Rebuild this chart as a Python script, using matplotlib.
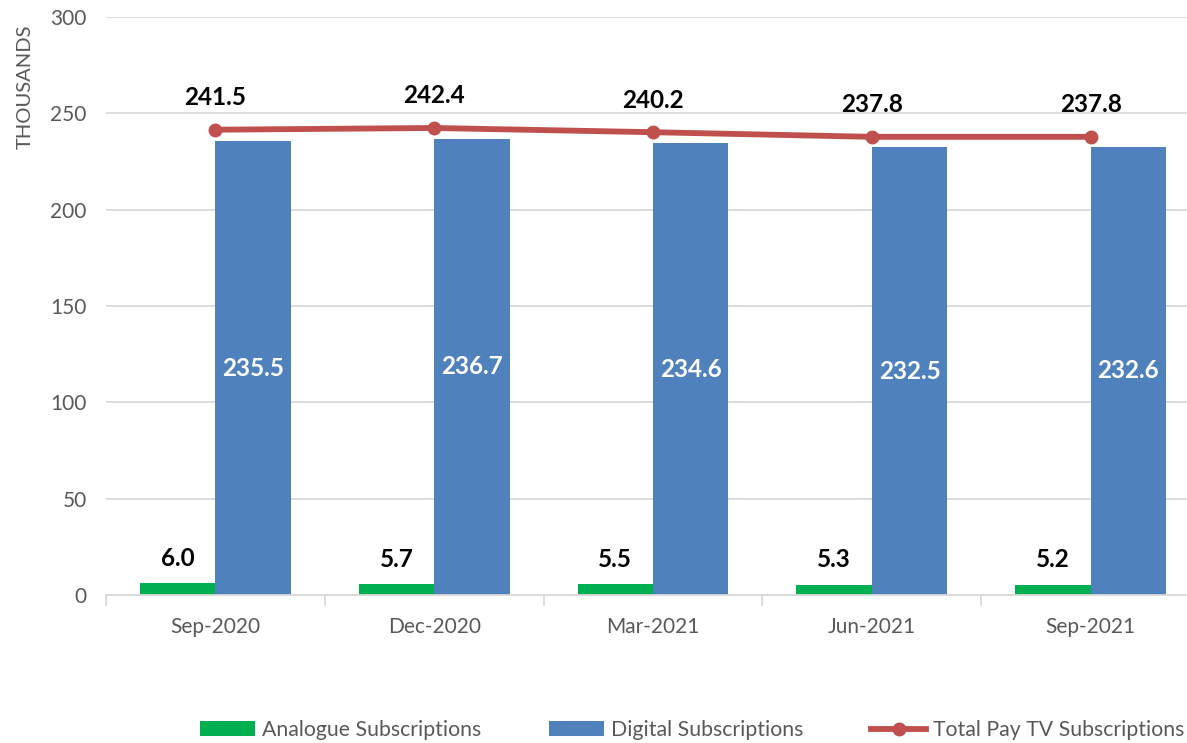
import matplotlib
matplotlib.use("Agg")
import matplotlib.pyplot as plt
from matplotlib.lines import Line2D
from matplotlib.patches import Patch
import numpy as np

plt.rcParams['font.family'] = ['Lato', 'DejaVu Sans']

quarters = ["Sep-2020", "Dec-2020", "Mar-2021", "Jun-2021", "Sep-2021"]
analogue = [6.0, 5.7, 5.5, 5.3, 5.2]
digital = [235.5, 236.7, 234.6, 232.5, 232.6]
total = [241.5, 242.4, 240.2, 237.8, 237.8]
yticks = [0, 50, 100, 150, 200, 250, 300]

GREEN = "#00B050"
BLUE = "#4F81BD"
RED = "#C0504D"
GREY_TXT = "#595959"
GRID = "#D9D9D9"

fig = plt.figure(figsize=(11.87, 7.43), dpi=100)
ax = fig.add_axes([106 / 1187, 148 / 743, 1094 / 1187, 578 / 743])

x = np.arange(len(quarters))
w = 0.345

ax.bar(x - w / 2, analogue, width=w, color=GREEN, zorder=2)
ax.bar(x + w / 2, digital, width=w, color=BLUE, zorder=2)
ax.plot(x, total, color=RED, lw=4.2, marker="o", ms=9, zorder=3,
        solid_capstyle="round")

LBL = dict(fontsize=17.5, fontweight="bold")
for xi, v in zip(x, analogue):
    ax.annotate(f"{v:.1f}", (xi - w / 2, v), xytext=(0, 25), textcoords="offset pixels",
                ha="center", va="center", color="black", **LBL)
for xi, v in zip(x, digital):
    ax.text(xi + w / 2, v / 2, f"{v:.1f}", ha="center", va="center",
            color="white", zorder=4, **LBL)
for xi, v in zip(x, total):
    ax.annotate(f"{v:.1f}", (xi, v), xytext=(0, 32), textcoords="offset pixels",
                ha="center", va="center", color="black", **LBL)

ax.set_xlim(-0.5, len(quarters) - 0.5)
ax.set_ylim(0, 300)
ax.set_yticks(yticks)
ax.set_yticklabels([str(t) for t in yticks])
ax.yaxis.grid(True, color=GRID, lw=1.3, zorder=0)
ax.set_axisbelow(True)

ax.set_xticks(x)
ax.set_xticklabels(quarters)
ax.set_xticks(np.arange(-0.5, len(quarters)), minor=True)
ax.tick_params(axis="x", which="major", length=0, pad=16, labelsize=15, labelcolor=GREY_TXT)
ax.tick_params(axis="x", which="minor", length=8, width=1.3, color=GRID, direction="out")
ax.tick_params(axis="y", length=0, pad=14, labelsize=15, labelcolor=GREY_TXT)

for s in ["top", "right", "left"]:
    ax.spines[s].set_visible(False)
ax.spines["bottom"].set_color(GRID)
ax.spines["bottom"].set_linewidth(1.3)

fig.text(25 / 1187, 1 - 87 / 743, "THOUSANDS", rotation=90, ha="center", va="center",
         fontsize=14.5, color=GREY_TXT)

handles = [
    Patch(facecolor=GREEN, edgecolor="none"),
    Patch(facecolor=BLUE, edgecolor="none"),
    Line2D([0], [0], color=RED, lw=4.2, marker="o", ms=9),
]
labels = ["Analogue Subscriptions", "Digital Subscriptions", "Total Pay TV Subscriptions"]
fig.legend(handles, labels, loc="center", bbox_to_anchor=(692 / 1187, 13 / 743), ncol=3,
           frameon=False, fontsize=15.3, labelcolor=GREY_TXT, handlelength=2.6,
           handletextpad=0.3, columnspacing=3.2, borderpad=0, borderaxespad=0)

fig.savefig("out.png", dpi=100)
